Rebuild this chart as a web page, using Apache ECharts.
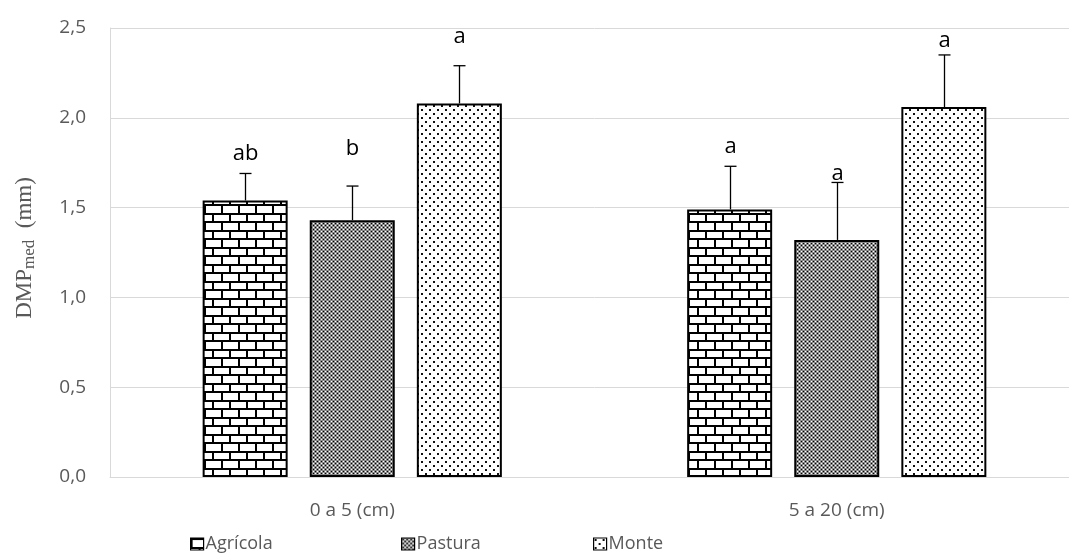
<!DOCTYPE html>
<html>
<head>
<meta charset="utf-8">
<script src="https://cdn.jsdelivr.net/npm/echarts@6/dist/echarts.min.js"></script>
<style>
  html, body { margin: 0; padding: 0; background: #fff; overflow: hidden; }
  #chart { width: 1079px; height: 556px; }
</style>
</head>
<body>
<div id="chart"></div>
<script>
// Depth classes and soil-use treatments
const categories = ['0 a 5 (cm)', '5 a 20 (cm)'];
const seriesNames = ['Agrícola', 'Pastura', 'Monte'];

// Mean weighted diameter (mm) per treatment, one value per depth
const agricola = [1.54, 1.49];
const pastura = [1.43, 1.32];
const monte = [2.08, 2.06];

// Upper end of the error bars (mm)
const agricolaErr = [1.69, 1.73];
const pasturaErr = [1.62, 1.64];
const monteErr = [2.29, 2.35];

// Significance letters above each bar
const agricolaLetters = ['ab', 'a'];
const pasturaLetters = ['b', 'a'];
const monteLetters = ['a', 'a'];

// Height (mm on the value axis) at which each letter's baseline sits
const agricolaLetterLevel = [1.76, 1.80];
const pasturaLetterLevel = [1.79, 1.65];
const monteLetterLevel = [2.41, 2.39];

// Y axis tick labels (comma decimals)
const yTickLabels = ['0,0', '0,5', '1,0', '1,5', '2,0', '2,5'];

// ---- fill patterns ----
function makeCanvas(w, h) {
  const c = document.createElement('canvas');
  c.width = w; c.height = h;
  return c;
}
function brickPattern() {
  const c = makeCanvas(17, 17);
  const g = c.getContext('2d');
  g.fillStyle = '#fff'; g.fillRect(0, 0, 17, 17);
  g.fillStyle = '#000';
  g.fillRect(0, 0, 17, 2);
  g.fillRect(0, 0, 2, 9);
  g.fillRect(0, 9, 17, 2);
  g.fillRect(8, 9, 2, 8);
  return c;
}
function checkerPattern() {
  const c = makeCanvas(4, 4);
  const g = c.getContext('2d');
  g.fillStyle = '#8a8a8a'; g.fillRect(0, 0, 4, 4);
  g.fillStyle = '#000';
  g.fillRect(1, 1, 1, 1); g.fillRect(3, 3, 1, 1);
  g.fillStyle = '#fff';
  g.fillRect(3, 1, 1, 1); g.fillRect(1, 3, 1, 1);
  return c;
}
function dotPattern() {
  const c = makeCanvas(8, 8);
  const g = c.getContext('2d');
  g.fillStyle = '#fff'; g.fillRect(0, 0, 8, 8);
  g.fillStyle = '#111';
  g.fillRect(1, 1, 2, 2);
  g.fillRect(5, 5, 2, 2);
  return c;
}

const fills = [
  { image: brickPattern(), repeat: 'repeat' },
  { image: checkerPattern(), repeat: 'repeat' },
  { image: dotPattern(), repeat: 'repeat' }
];

const means = [agricola, pastura, monte];
const errs = [agricolaErr, pasturaErr, monteErr];
const letters = [agricolaLetters, pasturaLetters, monteLetters];
const letterLevels = [agricolaLetterLevel, pasturaLetterLevel, monteLetterLevel];

const BAR_WIDTH = 85;
const BAR_GAP = 0.26;

// Error-bar records: [category, series, mean, upper, letter level]
const errData = [];
const errLetters = [];
for (let s = 0; s < 3; s++) {
  for (let c = 0; c < categories.length; c++) {
    errData.push([c, s, means[s][c], errs[s][c], letterLevels[s][c]]);
    errLetters.push(letters[s][c]);
  }
}

const labelFont = '"Open Sans", Lato, sans-serif';
const serifFont = '"Liberation Serif", "DejaVu Serif", serif';

const chart = echarts.init(document.getElementById('chart'), null, { renderer: 'canvas' });

const barSeries = seriesNames.map((name, i) => ({
  name: name,
  type: 'bar',
  data: means[i],
  barWidth: BAR_WIDTH,
  barGap: (BAR_GAP * 100) + '%',
  itemStyle: { color: fills[i], borderColor: '#000', borderWidth: 2 },
  emphasis: { disabled: true },
  z: 2
}));

const errorSeries = {
  type: 'custom',
  name: 'err',
  data: errData,
  z: 3,
  silent: true,
  renderItem: function (params, api) {
    const s = api.value(1);
    const pitch = BAR_WIDTH * (1 + BAR_GAP);
    const offset = (s - 1) * pitch;
    const base = api.coord([api.value(0), api.value(2)]);
    const top = api.coord([api.value(0), api.value(3)]);
    const letterPt = api.coord([api.value(0), api.value(4)]);
    const x = Math.round(base[0] + offset) + 0.5;
    const capHalf = 6;
    return {
      type: 'group',
      children: [
        { type: 'line', shape: { x1: x, y1: base[1], x2: x, y2: top[1] },
          style: { stroke: '#000', lineWidth: 1.3 } },
        { type: 'line', shape: { x1: x - capHalf, y1: top[1], x2: x + capHalf, y2: top[1] },
          style: { stroke: '#000', lineWidth: 1.3 } },
        { type: 'text', x: x, y: letterPt[1] + 4,
          style: { text: errLetters[params.dataIndex], fill: '#000',
                   font: '22px ' + labelFont, align: 'center', verticalAlign: 'bottom' } }
      ]
    };
  }
};

// One legend per treatment so each entry sits in its own fixed slot
const legendLeft = [190, 401, 593];
const legends = seriesNames.map((name, i) => ({
  data: [name],
  left: legendLeft[i],
  top: 535,
  itemWidth: 13,
  itemHeight: 12,
  itemGap: 0,
  icon: 'rect',
  padding: 0,
  textStyle: { color: '#595959', fontSize: 18, fontFamily: labelFont, padding: [0, 0, 0, -3] },
  itemStyle: { borderColor: '#000', borderWidth: 1.2 },
  selectedMode: false
}));

chart.setOption({
  animation: false,
  backgroundColor: '#fff',
  grid: { left: 110, top: 28, right: 0, height: 449, containLabel: false },
  legend: legends,
  graphic: [{
    type: 'text',
    x: 25,
    y: 248,
    rotation: Math.PI / 2,
    style: {
      text: '{main|DMP}{sub|med}{main|  (mm)}',
      align: 'center',
      verticalAlign: 'middle',
      rich: {
        main: { fontFamily: serifFont, fontSize: 23, fill: '#595959', color: '#595959' },
        sub: { fontFamily: serifFont, fontSize: 17, fill: '#595959', color: '#595959', padding: [10, 0, 0, 0] }
      }
    }
  }],
  xAxis: {
    type: 'category',
    data: categories,
    axisLine: { show: true, lineStyle: { color: '#d9d9d9', width: 1 } },
    axisTick: { show: false },
    axisLabel: { color: '#595959', fontSize: 19, fontFamily: labelFont, margin: 24 },
    splitLine: { show: false }
  },
  yAxis: {
    type: 'value',
    min: 0,
    max: 2.5,
    interval: 0.5,
    axisLine: { show: true, lineStyle: { color: '#d9d9d9', width: 1 } },
    axisTick: { show: false },
    axisLabel: {
      color: '#595959', fontSize: 19, fontFamily: labelFont, margin: 24,
      formatter: function (v) { return yTickLabels[Math.round(v / 0.5)]; }
    },
    splitLine: { show: true, lineStyle: { color: '#d9d9d9', width: 1 } }
  },
  series: barSeries.concat([errorSeries])
});
</script>
</body>
</html>
